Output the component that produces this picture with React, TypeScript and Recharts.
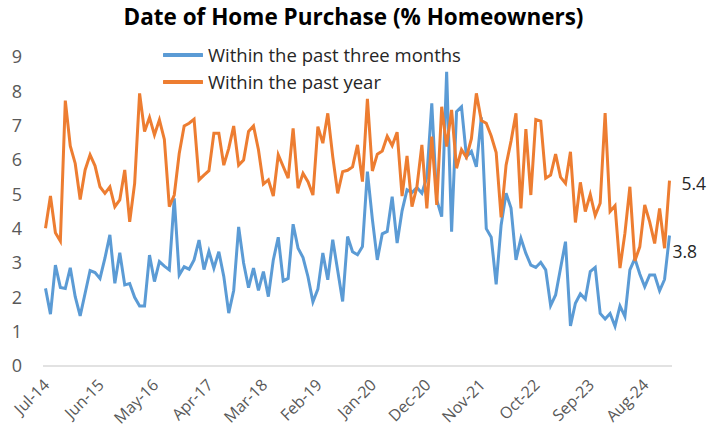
import { Legend, Line, LineChart, XAxis, YAxis } from 'recharts';

// monthly survey, Jul-14 .. Jan-25
const months = [
  'Jul-14', 'Aug-14', 'Sep-14', 'Oct-14', 'Nov-14', 'Dec-14',
  'Jan-15', 'Feb-15', 'Mar-15', 'Apr-15', 'May-15', 'Jun-15', 'Jul-15', 'Aug-15', 'Sep-15', 'Oct-15', 'Nov-15', 'Dec-15',
  'Jan-16', 'Feb-16', 'Mar-16', 'Apr-16', 'May-16', 'Jun-16', 'Jul-16', 'Aug-16', 'Sep-16', 'Oct-16', 'Nov-16', 'Dec-16',
  'Jan-17', 'Feb-17', 'Mar-17', 'Apr-17', 'May-17', 'Jun-17', 'Jul-17', 'Aug-17', 'Sep-17', 'Oct-17', 'Nov-17', 'Dec-17',
  'Jan-18', 'Feb-18', 'Mar-18', 'Apr-18', 'May-18', 'Jun-18', 'Jul-18', 'Aug-18', 'Sep-18', 'Oct-18', 'Nov-18', 'Dec-18',
  'Jan-19', 'Feb-19', 'Mar-19', 'Apr-19', 'May-19', 'Jun-19', 'Jul-19', 'Aug-19', 'Sep-19', 'Oct-19', 'Nov-19', 'Dec-19',
  'Jan-20', 'Feb-20', 'Mar-20', 'Apr-20', 'May-20', 'Jun-20', 'Jul-20', 'Aug-20', 'Sep-20', 'Oct-20', 'Nov-20', 'Dec-20',
  'Jan-21', 'Feb-21', 'Mar-21', 'Apr-21', 'May-21', 'Jun-21', 'Jul-21', 'Aug-21', 'Sep-21', 'Oct-21', 'Nov-21', 'Dec-21',
  'Jan-22', 'Feb-22', 'Mar-22', 'Apr-22', 'May-22', 'Jun-22', 'Jul-22', 'Aug-22', 'Sep-22', 'Oct-22', 'Nov-22', 'Dec-22',
  'Jan-23', 'Feb-23', 'Mar-23', 'Apr-23', 'May-23', 'Jun-23', 'Jul-23', 'Aug-23', 'Sep-23', 'Oct-23', 'Nov-23', 'Dec-23',
  'Jan-24', 'Feb-24', 'Mar-24', 'Apr-24', 'May-24', 'Jun-24', 'Jul-24', 'Aug-24', 'Sep-24', 'Oct-24', 'Nov-24', 'Dec-24',
  'Jan-25',
];

const pastThreeMonths = [
  2.26, 1.51, 2.94, 2.29, 2.26, 2.86, 2.02, 1.46, 2.12, 2.78, 2.72, 2.55, 3.14, 3.82, 2.41, 3.3,
  2.36, 2.4, 2.0, 1.75, 1.75, 3.23, 2.46, 3.04, 2.91, 2.8, 4.88, 2.65, 2.89, 2.82, 3.09, 3.67,
  2.81, 3.34, 2.85, 3.33, 2.61, 1.54, 2.2, 4.05, 3.0, 2.28, 2.85, 2.2, 2.75, 2.02, 3.09, 3.75,
  2.48, 2.55, 4.13, 3.43, 3.16, 2.6, 1.87, 2.24, 3.29, 2.51, 3.68, 2.78, 1.88, 3.77, 3.33, 3.24,
  3.48, 5.66, 4.28, 3.09, 3.85, 3.92, 4.93, 3.58, 4.52, 5.13, 5.05, 5.2, 5.03, 5.5, 7.65, 4.84,
  4.35, 8.57, 3.91, 7.41, 7.55, 6.1, 6.25, 5.8, 7.24, 4.0, 3.75, 2.38, 4.1, 5.03, 4.6, 3.09,
  3.72, 3.28, 2.94, 2.87, 3.02, 2.8, 1.76, 2.07, 2.85, 3.62, 1.17, 1.83, 2.1, 1.95, 2.75, 2.87,
  1.53, 1.37, 1.53, 1.16, 1.75, 1.44, 2.8, 3.13, 2.68, 2.31, 2.65, 2.65, 2.19, 2.52, 3.8,
];

const pastYear = [
  4.01, 4.95, 3.88, 3.64, 7.73, 6.41, 5.9, 4.85, 5.71, 6.15, 5.83, 5.22, 5.03, 5.22, 4.64, 4.84,
  5.71, 4.2, 5.32, 7.94, 6.83, 7.24, 6.73, 7.17, 6.6, 4.64, 4.98, 6.19, 6.99, 7.07, 7.19, 5.42,
  5.56, 5.69, 6.78, 6.78, 5.85, 6.34, 6.99, 5.85, 6.0, 6.83, 6.99, 6.3, 5.3, 5.42, 4.95, 6.15,
  5.81, 5.47, 6.92, 5.18, 5.61, 5.37, 4.98, 6.97, 6.49, 7.36, 6.1, 5.03, 5.66, 5.7, 5.8, 6.44,
  5.37, 7.78, 5.68, 6.17, 6.26, 6.69, 6.42, 6.81, 4.95, 6.12, 4.64, 5.22, 6.44, 4.59, 6.68, 4.69,
  7.55, 6.39, 7.46, 5.76, 6.3, 6.08, 6.62, 7.94, 7.15, 7.07, 6.7, 6.22, 4.33, 5.85, 6.55, 7.36,
  4.59, 6.9, 4.98, 7.18, 7.13, 5.47, 5.56, 6.17, 5.5, 5.32, 6.24, 4.18, 5.35, 4.5, 5.0, 4.38,
  4.74, 7.37, 4.5, 4.67, 2.85, 3.87, 5.22, 3.06, 3.47, 4.69, 4.2, 3.57, 4.59, 3.43, 5.4,
];

const xTicks = ['Jul-14', 'Jun-15', 'May-16', 'Apr-17', 'Mar-18', 'Feb-19', 'Jan-20', 'Dec-20', 'Nov-21', 'Oct-22', 'Sep-23', 'Aug-24'];
const yTicks = [0, 1, 2, 3, 4, 5, 6, 7, 8, 9];

const data = months.map((month, i) => ({
  month,
  threeMonths: pastThreeMonths[i],
  year: pastYear[i],
}));

const FONT = '"Open Sans", Lato, sans-serif';
const BLUE = '#5B9BD5';
const ORANGE = '#ED7D31';
const TEXT = '#595959';

function MonthTick({ x, y, payload }: any) {
  const tx = x + 5;
  const ty = y + 18;
  return (
    <text x={tx} y={ty} transform={`rotate(-45, ${tx}, ${ty})`} textAnchor="end" fontSize={16} fill={TEXT} fontFamily={FONT}>
      {payload.value}
    </text>
  );
}

// value label on the last point only
const endLabel = (dx: number, dy: number) => (props: any) => {
  const { x, y, index, value } = props;
  if (index !== months.length - 1) return null;
  return (
    <text x={x + dx} y={y + dy} dominantBaseline="central" fontSize={17.5} fill="#262626" fontFamily={FONT}>
      {Number(value).toFixed(1)}
    </text>
  );
};

function LegendBox() {
  const items = [
    { label: 'Within the past three months', color: BLUE },
    { label: 'Within the past year', color: ORANGE },
  ];
  return (
    <div style={{ fontFamily: FONT, fontSize: 18.5, color: '#262626' }}>
      {items.map((it) => (
        <div key={it.label} style={{ display: 'flex', alignItems: 'center', height: 27 }}>
          <svg width={40} height={6} style={{ marginRight: 5 }}>
            <line x1={1} y1={3} x2={39} y2={3} stroke={it.color} strokeWidth={4} strokeLinecap="round" />
          </svg>
          <span>{it.label}</span>
        </div>
      ))}
    </div>
  );
}

export default function App() {
  return (
    <div style={{ position: 'absolute', left: 0, top: 0, width: 707, height: 444, background: '#fff' }}>
      <div
        style={{
          position: 'absolute', top: 3, left: 0, width: 707, textAlign: 'center',
          fontFamily: FONT, fontWeight: 700, fontSize: 22.5, lineHeight: '28px', color: '#000',
        }}
      >
        Date of Home Purchase (% Homeowners)
      </div>
      <LineChart width={707} height={444} data={data} margin={{ top: 57, right: 35, bottom: 0, left: 0 }}>
        <XAxis
          dataKey="month"
          ticks={xTicks}
          interval={0}
          height={78}
          tickLine={false}
          tickSize={0}
          axisLine={{ stroke: '#D9D9D9', strokeWidth: 1.5 }}
          padding={{ left: 2.5, right: 2.5 }}
          tick={<MonthTick />}
        />
        <YAxis
          domain={[0, 9]}
          ticks={yTicks}
          interval={0}
          width={43}
          axisLine={false}
          tickLine={false}
          tickSize={0}
          tickMargin={21}
          tick={{ fontSize: 18, fill: TEXT, fontFamily: FONT }}
        />
        <Legend
          layout="vertical"
          align="center"
          verticalAlign="middle"
          content={<LegendBox />}
          wrapperStyle={{ left: 163, top: 41, width: 360 }}
        />
        <Line
          dataKey="threeMonths"
          name="Within the past three months"
          type="linear"
          stroke={BLUE}
          strokeWidth={3}
          dot={false}
          isAnimationActive={false}
          label={endLabel(3, 15)}
        />
        <Line
          dataKey="year"
          name="Within the past year"
          type="linear"
          stroke={ORANGE}
          strokeWidth={3}
          dot={false}
          isAnimationActive={false}
          label={endLabel(12, 2)}
        />
      </LineChart>
    </div>
  );
}
